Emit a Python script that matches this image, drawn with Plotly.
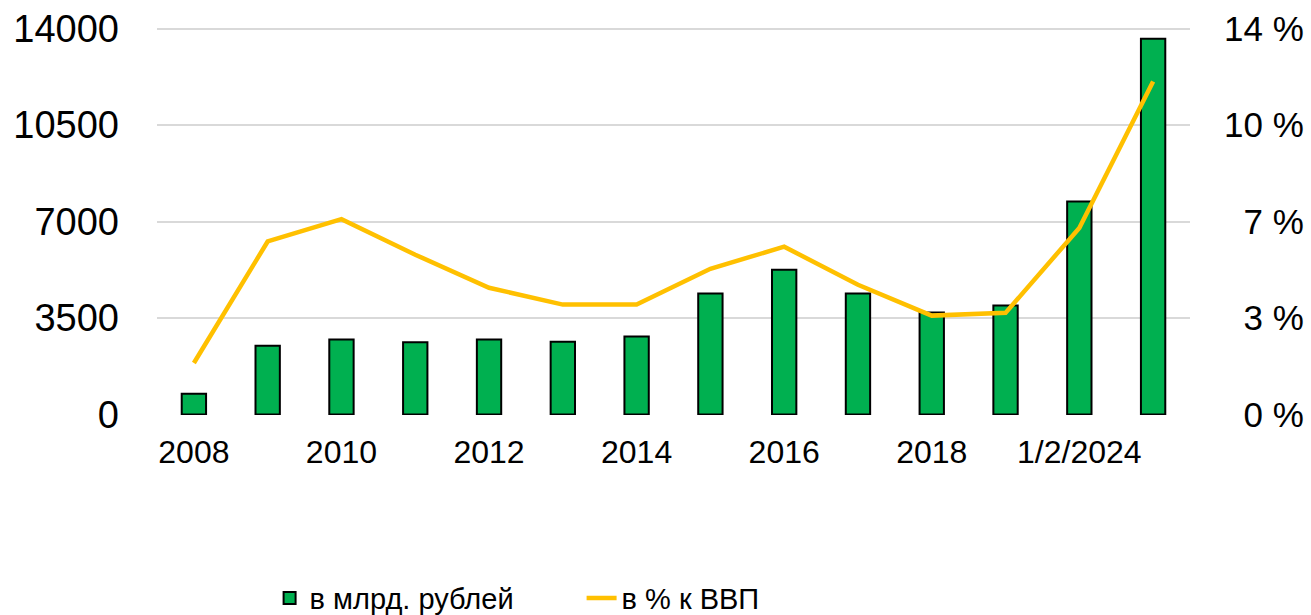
import plotly.graph_objects as go

categories = [str(y) for y in range(2008, 2022)]
tick_positions = categories[::2]
tick_labels = ["2008", "2010", "2012", "2014", "2016", "2018", "1/2/2024"]

bln_rub = [760, 2500, 2720, 2620, 2720, 2640, 2830, 4390, 5250, 4390, 3700, 3960, 7730, 13630]
pct_gdp = [1.87, 6.28, 7.09, 5.8, 4.6, 3.99, 3.99, 5.29, 6.09, 4.71, 3.59, 3.69, 6.77, 12.08]

left_ticks = [0, 3500, 7000, 10500, 14000]
left_labels = ["0", "3500", "7000", "10500", "14000"]
right_ticks = [0, 3.5, 7, 10.5, 14]
right_labels = ["0 %", "3 %", "7 %", "10 %", "14 %"]

FONT = "Liberation Sans"
NBSP = "\u00a0"
# right-align the right axis labels (one digit ~ two spaces wide)
max_len = max(len(t) for t in right_labels)
right_text = [NBSP * (2 * (max_len - len(t))) + t.replace(" ", NBSP) for t in right_labels]

fig = go.Figure()
fig.add_trace(go.Bar(
    x=categories, y=bln_rub, name="в млрд. рублей",
    marker=dict(color="#00b050", line=dict(color="#000000", width=2)),
    yaxis="y",
))
fig.add_trace(go.Scatter(
    x=categories, y=pct_gdp, name="в % к ВВП", mode="lines",
    line=dict(color="#ffc000", width=4.5),
    yaxis="y2",
))

fig.update_layout(
    width=1311, height=615,
    margin=dict(l=157, r=121, t=27, b=200, autoexpand=False),
    paper_bgcolor="white", plot_bgcolor="white",
    font=dict(family=FONT, color="#000000"),
    bargap=0.67,
    showlegend=True,
    legend=dict(
        orientation="h", x=0.109, xanchor="left",
        yref="container", y=0.0276, yanchor="middle",
        font=dict(size=29, family=FONT), entrywidth=267, entrywidthmode="pixels",
        traceorder="normal",
    ),
    xaxis=dict(
        type="category", categoryorder="array", categoryarray=categories,
        tickmode="array", tickvals=tick_positions, ticktext=tick_labels,
        tickfont=dict(size=32, family=FONT), showgrid=False, zeroline=False,
        showline=False, ticks="", ticklabelstandoff=15,
    ),
    yaxis=dict(
        range=[-15, 14060], tickmode="array", tickvals=left_ticks, ticktext=left_labels,
        tickfont=dict(size=38, family=FONT), showgrid=True,
        gridcolor="#d9d9d9", gridwidth=2, zeroline=False, showline=False,
        ticks="", ticklabelstandoff=37, ticklabeloverflow="allow",
    ),
    yaxis2=dict(
        range=[-0.015, 14.06], overlaying="y", side="right", tickmode="array",
        tickvals=right_ticks, ticktext=right_text,
        tickfont=dict(size=35, family=FONT), showgrid=False, zeroline=False,
        showline=False, ticks="", ticklabelstandoff=33, ticklabeloverflow="allow",
    ),
)

fig.write_html(
    "out.html",
    config={"displayModeBar": False},
    post_script="document.body.style.margin='0';document.body.style.overflow='hidden';",
)
